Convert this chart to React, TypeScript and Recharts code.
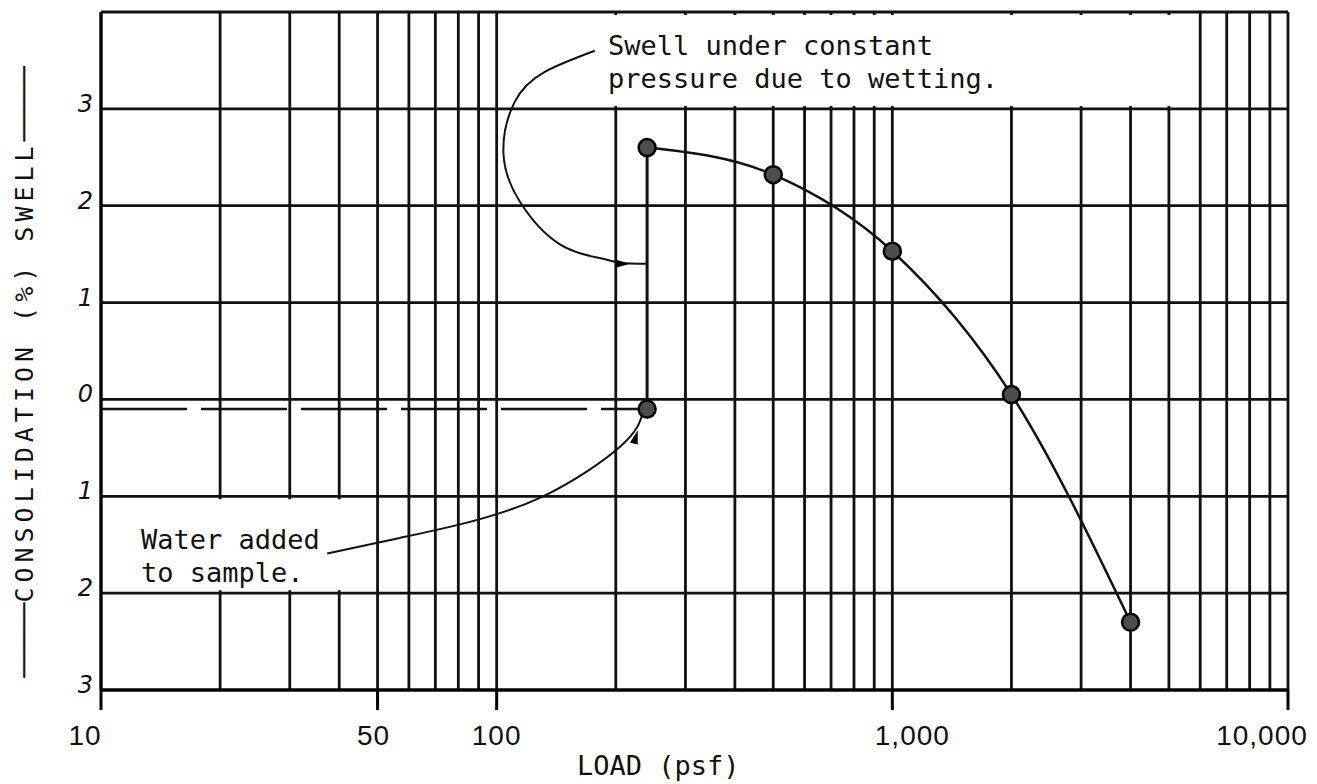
import { ComposedChart, Line, Scatter, XAxis, YAxis, CartesianGrid, ReferenceArea } from 'recharts';

// log grid of the load axis (psf)
const gridLoads = [
  10, 20, 30, 40, 50, 60, 70, 80, 90,
  100, 200, 300, 400, 500, 600, 700, 800, 900,
  1000, 2000, 3000, 4000, 5000, 6000, 7000, 8000, 9000, 10000,
];
const labelledLoads = [10, 50, 100, 1000, 10000];
const loadLabels = ['10', '50', '100', '1,000', '10,000'];

// swell is up, consolidation is down
const strainTicks = [-3, -2, -1, 0, 1, 2, 3, 4];
const strainLabels = ['3', '2', '1', '0', '1', '2', '3', ''];

// test readings
const testLoads = [240, 240, 500, 1000, 2000, 4000];
const testStrain = [-0.1, 2.6, 2.32, 1.53, 0.05, -2.3];

// seating reading carried back to the left edge
const seatLoads = [10, 240];
const seatStrain = [-0.1, -0.1];

// leader lines of the two notes
const swellNoteLoads = [177, 132, 111, 104, 114.5, 144.5, 182, 205, 241];
const swellNoteStrain = [3.6, 3.38, 3.07, 2.55, 2.04, 1.6, 1.46, 1.41, 1.4];
const waterNoteLoads = [37.3, 56.9, 80.8, 131, 206, 234];
const waterNoteStrain = [-1.59, -1.43, -1.29, -1.0, -0.48, -0.14];

const swellNoteText = ['Swell under constant', 'pressure due to wetting.'];
const waterNoteText = ['Water added', 'to sample.'];

const rows = (xs: number[], ys: number[]) => xs.map((load, i) => ({ load, strain: ys[i] }));

const points = rows(testLoads, testStrain);
const wetting = points.slice(0, 2);
const loading = points.slice(1);
const seating = rows(seatLoads, seatStrain);
const swellNote = rows(swellNoteLoads, swellNoteStrain);
const waterNote = rows(waterNoteLoads, waterNoteStrain);

const mono = '"DejaVu Sans Mono", monospace';
const ink = '#111';

function LoadTick(props: any) {
  const { x, y, payload } = props;
  const i = labelledLoads.indexOf(payload.value);
  if (i < 0) return <g />;
  const shift = [-16, -4, 0, 20, -26][i];
  return (
    <g>
      <line x1={x} y1={y} x2={x} y2={y + 20} stroke="#000" strokeWidth={3} />
      <text x={x + shift} y={y + 55} textAnchor="middle" fontFamily='"Liberation Sans", sans-serif' fontSize={28} letterSpacing={1} fill={ink}>
        {loadLabels[i]}
      </text>
    </g>
  );
}

function StrainTick(props: any) {
  const { x, y, payload } = props;
  const i = strainTicks.indexOf(payload.value);
  return (
    <text x={x - 8} y={y + 3} textAnchor="end" fontFamily='"DejaVu Sans", sans-serif' fontStyle="italic" fontSize={24} fill={ink}>
      {strainLabels[i]}
    </text>
  );
}

// note text drawn as the label of the white patch it sits on
function Note(props: any) {
  const { tx, ty, lines } = props;
  return (
    <text fontFamily={mono} fontSize={27} fill={ink}>
      {lines.map((s: string, i: number) => (
        <tspan key={i} x={tx} y={ty + i * 33}>{s}</tspan>
      ))}
    </text>
  );
}

export default function App() {
  return (
    <div style={{ width: 1309, height: 776, background: '#fff' }}>
      <ComposedChart width={1309} height={776} margin={{ top: 4, right: 29, bottom: 0, left: 0 }}>
        <defs>
          <marker id="head" markerWidth={14} markerHeight={10} refX={32} refY={5} orient="auto" markerUnits="userSpaceOnUse">
            <path d="M0,1 L14,5 L0,9 z" fill="#000" />
          </marker>
        </defs>
        <CartesianGrid stroke={ink} strokeWidth={2.8} strokeOpacity={1} />
        <ReferenceArea
          x1={103} x2={5900} y1={3.03} y2={3.97}
          fill="#fff" fillOpacity={1} stroke="none" ifOverflow="visible"
          label={<Note tx={600} ty={47} lines={swellNoteText} />}
        />
        <ReferenceArea
          x1={10.15} x2={49} y1={-1.97} y2={-1.03}
          fill="#fff" fillOpacity={1} stroke="none" ifOverflow="visible"
          label={<Note tx={133} ty={541} lines={waterNoteText} />}
        />
        <XAxis
          type="number"
          dataKey="load"
          scale="log"
          domain={[10, 10000]}
          allowDataOverflow
          ticks={gridLoads}
          interval={0}
          height={94}
          tickSize={0}
          tickMargin={0}
          tickLine={false}
          axisLine={{ stroke: '#000', strokeWidth: 3 }}
          tick={<LoadTick />}
        />
        <YAxis
          type="number"
          dataKey="strain"
          domain={[-3, 4]}
          allowDataOverflow
          ticks={strainTicks}
          interval={0}
          width={93}
          tickSize={0}
          tickMargin={0}
          tickLine={false}
          axisLine={{ stroke: '#000', strokeWidth: 3 }}
          tick={<StrainTick />}
        />
        <Line data={seating} dataKey="strain" type="linear" stroke={ink} strokeWidth={2.5} strokeDasharray="86 14" dot={false} activeDot={false} isAnimationActive={false} legendType="none" />
        <Line data={wetting} dataKey="strain" type="linear" stroke={ink} strokeWidth={3} dot={false} activeDot={false} isAnimationActive={false} legendType="none" />
        <Line data={loading} dataKey="strain" type="monotone" stroke={ink} strokeWidth={2.5} dot={false} activeDot={false} isAnimationActive={false} legendType="none" />
        <Line data={swellNote} dataKey="strain" type="natural" stroke={ink} strokeWidth={2} markerEnd="url(#head)" dot={false} activeDot={false} isAnimationActive={false} legendType="none" />
        <Line data={waterNote} dataKey="strain" type="natural" stroke={ink} strokeWidth={2} markerEnd="url(#head)" dot={false} activeDot={false} isAnimationActive={false} legendType="none" />
        <Scatter
          data={points}
          isAnimationActive={false}
          legendType="none"
          shape={(p: any) => <circle cx={p.cx} cy={p.cy} r={8.5} fill="#4d4d4d" stroke="#000" strokeWidth={2.5} />}
        />
        <text x={569} y={767} fontFamily={mono} fontSize={27} fill={ink}>LOAD (psf)</text>
        <text transform="translate(16,364) rotate(-90)" textAnchor="middle" dominantBaseline="central" fontFamily={mono} fontSize={25} fill={ink}>
          <tspan>─────</tspan>
          <tspan letterSpacing={5}>CONSOLIDATION (%) SWELL</tspan>
          <tspan>─────</tspan>
        </text>
      </ComposedChart>
    </div>
  );
}
